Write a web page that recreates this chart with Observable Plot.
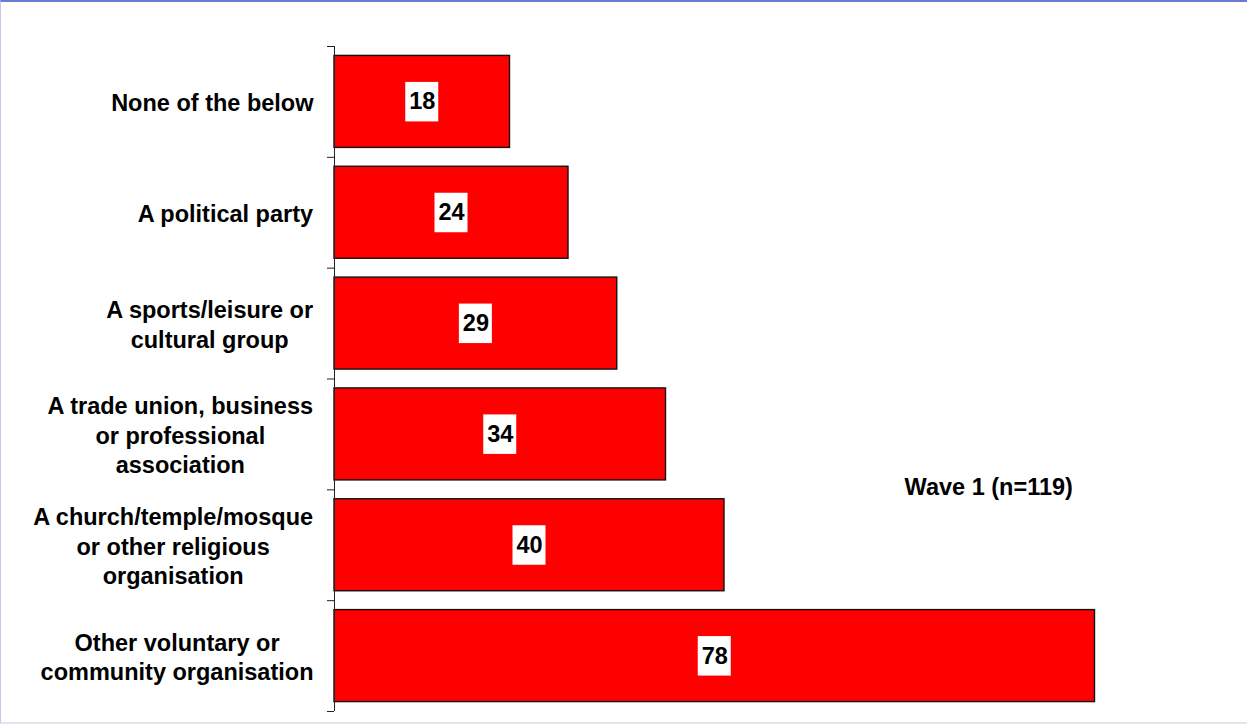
<!DOCTYPE html>
<html>
<head>
<meta charset="utf-8">
<script src="https://cdn.jsdelivr.net/npm/d3@7"></script>
<script src="https://cdn.jsdelivr.net/npm/@observablehq/plot@0.6"></script>
<style>
  html, body { margin: 0; padding: 0; background: #fff; }
  #wrap { position: relative; width: 1247px; height: 724px; overflow: hidden; }
  #frame { position: absolute; left: 0; top: 0; width: 1247px; height: 724px; box-sizing: border-box;
           border-top: 2px solid #6b7bd0; border-left: 1px solid #c3c9ea; border-bottom: 2px solid #e4e4ee; pointer-events: none; }
  svg { position: absolute; left: 0; top: 0; }
</style>
</head>
<body>
<div id="wrap"><div id="frame"></div></div>
<script>
const categories = [
  "None of the below",
  "A political party",
  "A sports/leisure or\ncultural group",
  "A trade union, business\nor professional\nassociation",
  "A church/temple/mosque\nor other religious\norganisation",
  "Other voluntary or\ncommunity organisation"
];
const values = [18, 24, 29, 34, 40, 78];
const waveLabel = "Wave 1 (n=119)";

const data = categories.map((c, i) => ({category: c, value: values[i]}));

const W = 1247, H = 724, mTop = 46, mBottom = 13, mLeft = 334, mRight = 133;
const step = (H - mTop - mBottom) / categories.length;
const pxPerUnit = (W - mLeft - mRight) / 80;
const fontName = "'Liberation Sans', Arial, Helvetica, sans-serif";
const fs = 23.5;

// measure label blocks so lines can be centred within a right-aligned block
const ctx = document.createElement("canvas").getContext("2d");
ctx.font = `bold ${fs}px ${fontName}`;
const blockWidth = c => Math.max(...c.split("\n").map(l => ctx.measureText(l).width));

const labelMarks = categories.map(c =>
  Plot.text([c], {y: d => d, x: () => 0, text: d => d, textAnchor: "middle",
                  dx: -(21 + blockWidth(c) / 2), lineHeight: 1.25,
                  fontSize: fs, fontWeight: "bold", fill: "black"})
);

const chart = Plot.plot({
  width: W,
  height: H,
  marginTop: mTop,
  marginBottom: mBottom,
  marginLeft: mLeft,
  marginRight: mRight,
  style: {fontFamily: fontName, background: "transparent"},
  x: {domain: [0, 80], axis: null},
  y: {domain: categories, paddingInner: 0.17, paddingOuter: 0.085, round: false, axis: null},
  marks: [
    Plot.barX(data, {y: "category", x: "value", fill: "#ff0000", stroke: "#111", strokeWidth: 1.4}),
    Plot.barX(data, {y: "category", x1: d => d.value / 2 - 16.5 / pxPerUnit, x2: d => d.value / 2 + 16.5 / pxPerUnit,
                     fill: "white", insetTop: 26.5, insetBottom: 26}),
    Plot.text(data, {y: "category", x: d => d.value / 2, text: d => String(d.value),
                     fontSize: fs, fontWeight: "bold", fill: "black"}),
    ...labelMarks,
    Plot.ruleX([0], {stroke: "#222", strokeWidth: 1}),
    Plot.ruleY(categories, {y: d => d, x1: -7 / pxPerUnit, x2: 0, dy: -step / 2, stroke: "#222"}),
    Plot.ruleY([categories[categories.length - 1]], {y: d => d, x1: -7 / pxPerUnit, x2: 0, dy: step / 2, stroke: "#222"}),
    Plot.text([waveLabel], {x: () => 67.1, y: () => categories[4], dy: -step / 2 - 2, text: d => d,
                            fontSize: fs, fontWeight: "bold", fill: "black"})
  ]
});
document.getElementById("wrap").insertBefore(chart, document.getElementById("frame"));
</script>
</body>
</html>
